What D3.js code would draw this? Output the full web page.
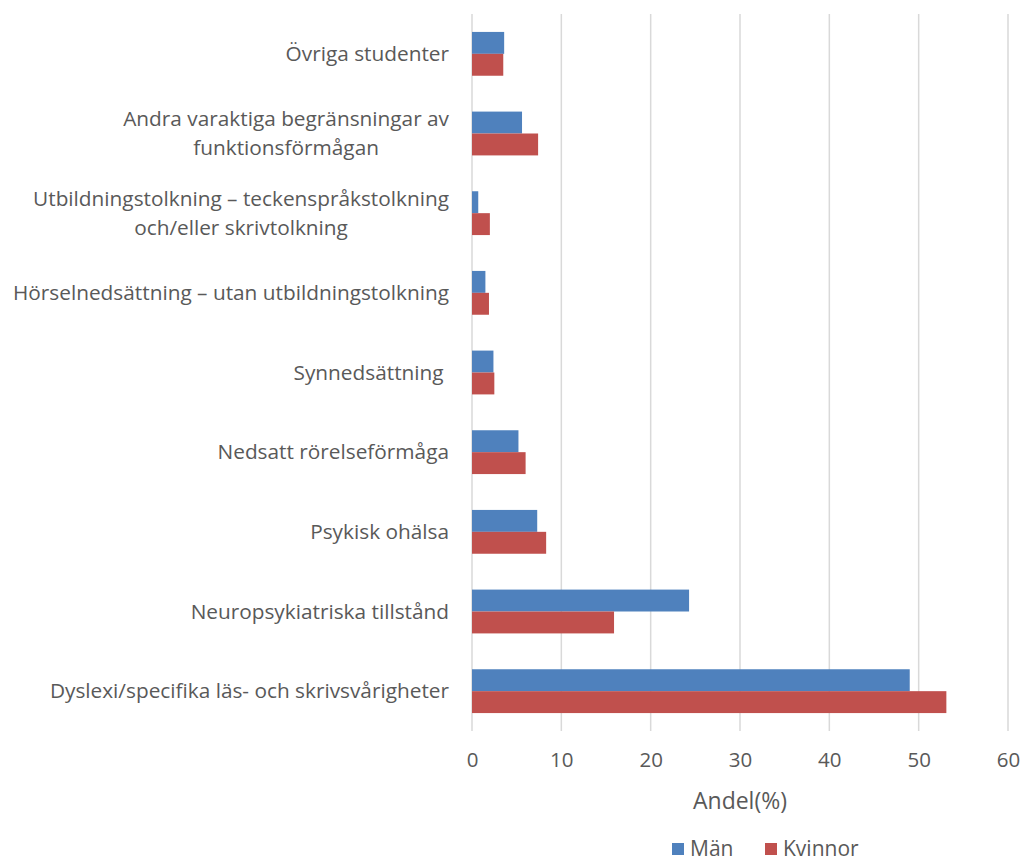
<!DOCTYPE html>
<html>
<head>
<meta charset="utf-8">
<script src="https://cdn.jsdelivr.net/npm/d3@7"></script>
<style>
  body { margin: 0; background: #fff; }
  #chartContainer { width: 1024px; height: 862px; }
  text { font-family: "Open Sans", Lato, sans-serif; fill: #595959; }
</style>
</head>
<body>
<div id="chartContainer"></div>
<script>
// categories top to bottom, "\n" marks a line break in the label
const categories = [
    "Övriga studenter",
    "Andra varaktiga begränsningar av\nfunktionsförmågan",
    "Utbildningstolkning – teckenspråkstolkning\noch/eller skrivtolkning",
    "Hörselnedsättning – utan utbildningstolkning",
    "Synnedsättning ",
    "Nedsatt rörelseförmåga",
    "Psykisk ohälsa",
    "Neuropsykiatriska tillstånd",
    "Dyslexi/specifika läs- och skrivsvårigheter"
];
const seriesNames = ["Män", "Kvinnor"];
const manValues = [3.6, 5.6, 0.7, 1.5, 2.4, 5.2, 7.3, 24.3, 49.0];
const kvinnorValues = [3.5, 7.4, 2.0, 1.9, 2.5, 6.0, 8.3, 15.9, 53.1];
const xTicks = [0, 10, 20, 30, 40, 50, 60];
const colors = ["#4F81BD", "#C0504D"];

const data = categories.map((c, i) => ({ name: c, values: [manValues[i], kvinnorValues[i]] }));

const margin = { top: 14, right: 16, bottom: 131, left: 472 };
const width = 1024 - margin.left - margin.right;
const height = 862 - margin.top - margin.bottom;

const svg = d3.select("#chartContainer")
    .append("svg")
    .attr("width", 1024)
    .attr("height", 862);

const g = svg.append("g")
    .attr("transform", `translate(${margin.left},${margin.top})`);

const xScale = d3.scaleLinear().domain([0, 60]).range([0, width]);

const yScale = d3.scaleBand()
    .domain(categories)
    .range([0, height])
    .paddingInner(0.45)
    .paddingOuter(0.225);

const ySub = d3.scaleBand()
    .domain(seriesNames)
    .range([0, yScale.bandwidth()]);

// gridlines
g.append("g")
    .selectAll("line")
    .data(xTicks)
    .enter()
    .append("line")
    .attr("x1", d => xScale(d))
    .attr("x2", d => xScale(d))
    .attr("y1", 0)
    .attr("y2", height)
    .attr("stroke", "#d9d9d9")
    .attr("stroke-width", 1.5);

// bars
const groups = g.selectAll(".group")
    .data(data)
    .enter()
    .append("g")
    .attr("class", "group")
    .attr("transform", d => `translate(0,${yScale(d.name)})`);

groups.selectAll("rect")
    .data(d => d.values.map((v, i) => ({ series: seriesNames[i], value: v, i })))
    .enter()
    .append("rect")
    .attr("x", xScale(0))
    .attr("y", d => ySub(d.series))
    .attr("width", d => xScale(d.value) - xScale(0))
    .attr("height", ySub.bandwidth())
    .attr("fill", d => colors[d.i]);

// x axis (labels only)
const xAxis = g.append("g")
    .attr("transform", `translate(0,${height})`)
    .call(d3.axisBottom(xScale).tickValues(xTicks).tickSize(0).tickPadding(21));
xAxis.select(".domain").remove();
xAxis.selectAll("text")
    .style("font-size", "20.5px")
    .style("fill", "#595959")
    .style("font-family", "'Open Sans', Lato, sans-serif");

// category labels: block right-aligned to the axis, lines centred inside the block
const labelRight = -23;
const labels = g.append("g")
    .selectAll("text")
    .data(categories)
    .enter()
    .append("text")
    .attr("y", d => yScale(d) + yScale.bandwidth() / 2)
    .attr("text-anchor", "middle")
    .style("font-size", "20.8px")
    .style("white-space", "pre");

labels.each(function (d) {
    const lines = d.split("\n");
    const t = d3.select(this);
    const spans = lines.map((line, k) => t.append("tspan")
        .attr("dy", k === 0 ? `${0.35 - (lines.length - 1) * 0.7}em` : "1.4em")
        .text(line));
    const maxW = d3.max(spans, s => s.node().getComputedTextLength());
    spans.forEach(s => s.attr("x", labelRight - maxW / 2));
});

// axis title
svg.append("text")
    .attr("x", margin.left + width / 2)
    .attr("y", 809)
    .attr("text-anchor", "middle")
    .style("font-size", "23px")
    .text("Andel(%)");

// legend
const legendX = [672, 765];
const legend = svg.append("g");
seriesNames.forEach((s, i) => {
    legend.append("rect")
        .attr("x", legendX[i])
        .attr("y", 843)
        .attr("width", 12)
        .attr("height", 12)
        .attr("fill", colors[i]);
    legend.append("text")
        .attr("x", legendX[i] + 18)
        .attr("y", 856)
        .style("font-size", "21px")
        .text(s);
});
</script>
</body>
</html>
